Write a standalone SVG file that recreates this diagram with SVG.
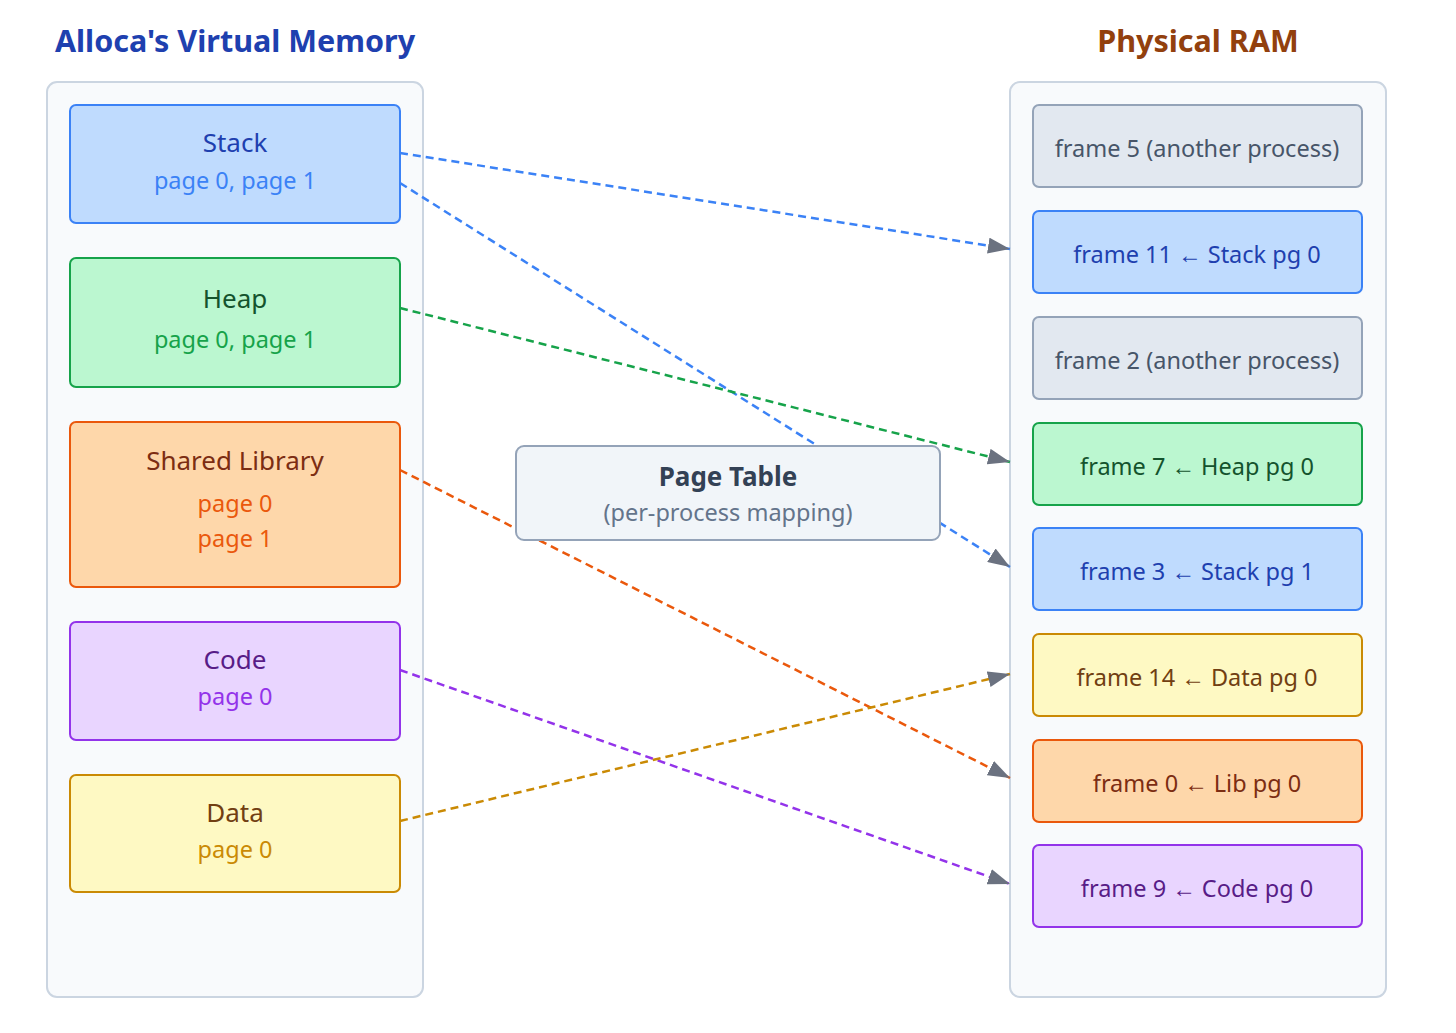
<svg xmlns="http://www.w3.org/2000/svg" width="1456" height="1033" viewBox="0 0 1456 1033">
<defs>
<style>
text{font-family:"Noto Sans","Open Sans","Liberation Sans",sans-serif;text-anchor:middle}
.h{font-size:30.5px;font-weight:700}
.t{font-size:26px}
.s{font-size:23.5px}
.f{font-size:23.5px}
.cont{fill:#f8fafc;stroke:#cbd5e1;stroke-width:2}
.box{stroke-width:2}
.blue{fill:#bfdbfe;stroke:#3b82f6}
.green{fill:#bbf7d0;stroke:#16a34a}
.orange{fill:#fed7aa;stroke:#ea580c}
.purple{fill:#e9d5ff;stroke:#9333ea}
.yellow{fill:#fef9c3;stroke:#ca8a04}
.grey{fill:#e2e8f0;stroke:#94a3b8}
.c{fill:none;stroke-width:2.5;stroke-dasharray:8 5;marker-end:url(#arr)}
</style>
<marker id="arr" markerUnits="userSpaceOnUse" markerWidth="22" markerHeight="16" refX="22" refY="8" orient="auto">
<path d="M0,0 L22,8 L0,16 z" fill="#6b7280"/>
</marker>
</defs>
<rect width="1456" height="1033" fill="#ffffff"/>

<text class="h" x="235" y="52" fill="#1e40af">Alloca's Virtual Memory</text>
<text class="h" x="1198" y="52" fill="#92400e">Physical RAM</text>

<rect class="cont" x="47" y="82" width="376" height="915" rx="10"/>
<rect class="cont" x="1010" y="82" width="376" height="915" rx="10"/>

<g id="stack">
<rect class="box blue" x="70" y="105" width="330" height="118" rx="6"/>
<text class="t" x="235" y="152" fill="#1e40af">Stack</text>
<text class="s" x="235" y="189" fill="#3b82f6">page 0, page 1</text>
</g>
<g id="heap">
<rect class="box green" x="70" y="258" width="330" height="129" rx="6"/>
<text class="t" x="235" y="308" fill="#14532d">Heap</text>
<text class="s" x="235" y="348" fill="#16a34a">page 0, page 1</text>
</g>
<g id="shared-library">
<rect class="box orange" x="70" y="422" width="330" height="165" rx="6"/>
<text class="t" x="235" y="470" fill="#7c2d12">Shared Library</text>
<text class="s" x="235" y="512" fill="#ea580c">page 0</text>
<text class="s" x="235" y="547" fill="#ea580c">page 1</text>
</g>
<g id="code">
<rect class="box purple" x="70" y="622" width="330" height="118" rx="6"/>
<text class="t" x="235" y="669" fill="#581c87">Code</text>
<text class="s" x="235" y="705" fill="#9333ea">page 0</text>
</g>
<g id="data">
<rect class="box yellow" x="70" y="775" width="330" height="117" rx="6"/>
<text class="t" x="235" y="822" fill="#713f12">Data</text>
<text class="s" x="235" y="858" fill="#ca8a04">page 0</text>
</g>

<g id="frame5">
<rect class="box grey" x="1033" y="105" width="329" height="82" rx="6"/>
<text class="f" x="1197" y="157" fill="#475569">frame 5 (another process)</text>
</g>
<g id="frame11">
<rect class="box blue" x="1033" y="211" width="329" height="82" rx="6"/>
<text class="f" x="1197" y="263" fill="#1e40af">frame 11 ← Stack pg 0</text>
</g>
<g id="frame2">
<rect class="box grey" x="1033" y="317" width="329" height="82" rx="6"/>
<text class="f" x="1197" y="369" fill="#475569">frame 2 (another process)</text>
</g>
<g id="frame7">
<rect class="box green" x="1033" y="423" width="329" height="82" rx="6"/>
<text class="f" x="1197" y="475" fill="#14532d">frame 7 ← Heap pg 0</text>
</g>
<g id="frame3">
<rect class="box blue" x="1033" y="528" width="329" height="82" rx="6"/>
<text class="f" x="1197" y="580" fill="#1e40af">frame 3 ← Stack pg 1</text>
</g>
<g id="frame14">
<rect class="box yellow" x="1033" y="634" width="329" height="82" rx="6"/>
<text class="f" x="1197" y="686" fill="#713f12">frame 14 ← Data pg 0</text>
</g>
<g id="frame0">
<rect class="box orange" x="1033" y="740" width="329" height="82" rx="6"/>
<text class="f" x="1197" y="792" fill="#7c2d12">frame 0 ← Lib pg 0</text>
</g>
<g id="frame9">
<rect class="box purple" x="1033" y="845" width="329" height="82" rx="6"/>
<text class="f" x="1197" y="897" fill="#581c87">frame 9 ← Code pg 0</text>
</g>

<g id="connectors">
<line class="c" x1="400" y1="153" x2="1010" y2="249" stroke="#3b82f6"/>
<line class="c" x1="400" y1="183" x2="1010" y2="567" stroke="#3b82f6"/>
<line class="c" x1="400" y1="308" x2="1010" y2="462" stroke="#16a34a"/>
<line class="c" x1="400" y1="470" x2="1010" y2="778" stroke="#ea580c"/>
<line class="c" x1="400" y1="670" x2="1010" y2="884" stroke="#9333ea"/>
<line class="c" x1="400" y1="821" x2="1010" y2="674" stroke="#ca8a04"/>
</g>

<g id="page-table">
<rect x="516" y="446" width="424" height="94" rx="8" fill="#f1f5f9" stroke="#94a3b8" stroke-width="2"/>
<text x="728" y="486" style="font-size:26px;font-weight:700" fill="#334155">Page Table</text>
<text x="728" y="521" style="font-size:23.5px" fill="#64748b">(per-process mapping)</text>
</g>
</svg>
